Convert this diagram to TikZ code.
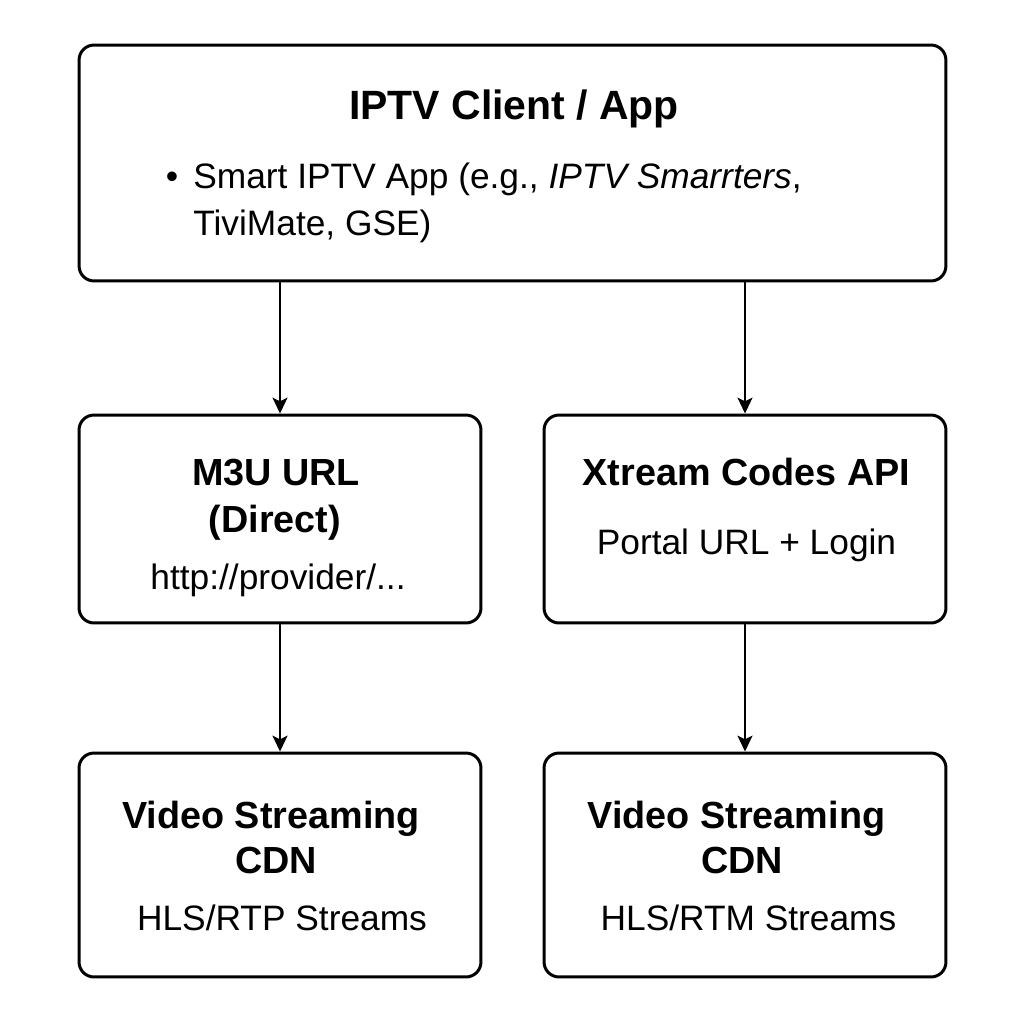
\documentclass[tikz,border=0pt]{standalone}
\usepackage{fontspec}
\setmainfont{Liberation Sans}
\usetikzlibrary{arrows.meta}

\tikzset{
  box/.style={draw, rounded corners=0.3cm, line width=1.7pt, inner sep=0pt},
  ttl/.style={font=\fontsize{23.3}{28}\selectfont\bfseries, anchor=base, inner sep=0pt},
  hdr/.style={font=\fontsize{21.5}{25}\selectfont\bfseries, anchor=base, inner sep=0pt},
  txt/.style={font=\fontsize{20.1}{24}\selectfont, anchor=base, inner sep=0pt},
  arr/.style={-{Stealth[length=9pt, width=8.5pt, inset=2pt]}, line width=1.1pt},
}

\begin{document}
\begin{tikzpicture}[x=0.02cm, y=-0.02cm]
  \fill[white] (0,0) rectangle (1024,1024);
  \useasboundingbox (0,0) rectangle (1024,1024);

  % boxes
  \node[box, minimum width=17.34cm, minimum height=4.72cm] (client) at (512.5,163) {};
  \node[box, minimum width=8.04cm, minimum height=4.16cm] (m3u) at (280,519) {};
  \node[box, minimum width=8.04cm, minimum height=4.16cm] (xtream) at (745,519) {};
  \node[box, minimum width=8.04cm, minimum height=4.48cm] (cdnL) at (280,865) {};
  \node[box, minimum width=8.04cm, minimum height=4.48cm] (cdnR) at (745,865) {};

  % client text
  \node[ttl] (clientT) at (514,119) {IPTV Client / App};
  \node[txt] (dot) at (172,188) {\textbullet};
  \node[txt, anchor=base west] (appsA) at (193,188) {Smart IPTV App (e.g., \textit{IPTV Smarrters},};
  \node[txt, anchor=base west] (appsB) at (193,235) {TiviMate, GSE)};

  % middle row text
  \node[hdr] (m3uT) at (276,485) {M3U URL};
  \node[hdr] (m3uD) at (275,532) {(Direct)};
  \node[txt] (m3uU) at (278,589) {http://provider/...};
  \node[hdr] (xtreamT) at (746.5,485) {Xtream Codes API};
  \node[txt] (xtreamL) at (746.5,554) {Portal URL + Login};

  % bottom row text
  \node[hdr] (cdnLT) at (271,828) {Video Streaming};
  \node[hdr] (cdnLC) at (276,873) {CDN};
  \node[txt] (cdnLS) at (282,930) {HLS/RTP Streams};
  \node[hdr] (cdnRT) at (736.5,828) {Video Streaming};
  \node[hdr] (cdnRC) at (742,873) {CDN};
  \node[txt] (cdnRS) at (748.5,930) {HLS/RTM Streams};

  % arrows
  \draw[arr] (client.south -| m3u) -- (m3u);
  \draw[arr] (client.south -| xtream) -- (xtream);
  \draw[arr] (m3u) -- (cdnL);
  \draw[arr] (xtream) -- (cdnR);
\end{tikzpicture}
\end{document}
